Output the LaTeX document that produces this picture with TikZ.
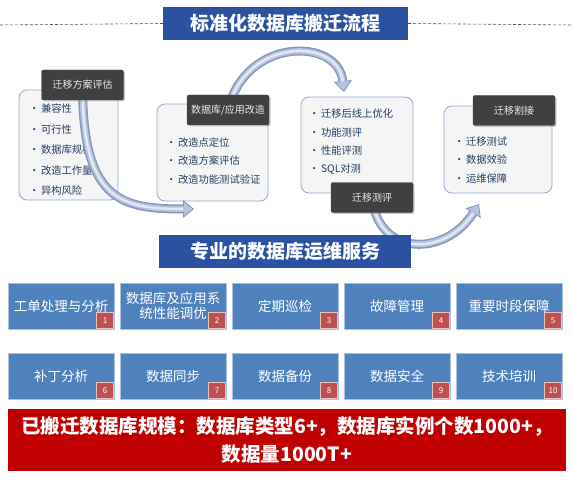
\documentclass[tikz,border=0pt]{standalone}
\usepackage{fontspec}
\setmainfont{Noto Sans CJK SC}
\usepackage{tikz}
\usetikzlibrary{calc}
\usetikzlibrary{arrows.meta}
\usetikzlibrary{shadows}
\tikzset{>=stealth,inner sep=0pt, outer sep=0pt,}

\definecolor{titleblue}{HTML}{2C51A0}
\definecolor{rulegray}{HTML}{44546A}
\definecolor{boxedge}{HTML}{8FAAD2}
\definecolor{boxfill}{HTML}{F5F5F6}
\definecolor{itemblue}{HTML}{243F60}
\definecolor{labdark}{HTML}{404040}
\definecolor{tubeedge}{HTML}{8797BC}
\definecolor{tubemid}{HTML}{B5C2DB}
\definecolor{tubelight}{HTML}{E3E8F2}
\definecolor{svcblue}{HTML}{4F81BD}
\definecolor{svcedge}{HTML}{A9C0DE}
\definecolor{badgered}{HTML}{C0504D}
\definecolor{badgeedge}{HTML}{E8C0BF}
\definecolor{bannerred}{HTML}{C00000}

\tikzset{
	titlebar/.style={fill=titleblue, text=white, font=\bfseries\fontsize{19}{22}\selectfont},
	rule/.style={draw=rulegray, line width=0.6pt, dash pattern=on 3pt off 2pt},
	lightbox/.style={draw=boxedge, fill=boxfill, line width=0.8pt, rounded corners=8pt},
	darklab/.style={fill=labdark, draw=black!70, rounded corners=2pt, text=white!92!black,
		minimum width=82pt, minimum height=30pt, font=\fontsize{10}{12}\selectfont,
		drop shadow={shadow xshift=1.5pt, shadow yshift=-1.5pt, opacity=0.4}},
	item/.style={anchor=west, text=itemblue, font=\fontsize{10.3}{12}\selectfont},
	tube/.style={line width=9pt, draw=tubeedge,
		-{Triangle[width=18pt,length=11pt,line width=0.8pt,fill=tubemid]},
		postaction={draw=tubemid, line width=6pt, shorten >=10pt, -},
		postaction={draw=tubelight, line width=2.5pt, shorten >=11pt, -}},
	svc/.style={fill=svcblue, draw=svcedge, line width=0.6pt, text=white, align=center,
		minimum width=106pt, minimum height=46pt, font=\fontsize{13.5}{15.5}\selectfont},
	badge/.style={fill=badgered, draw=badgeedge, line width=0.6pt, text=white,
		minimum width=17pt, minimum height=16pt, inner sep=1.5pt, font=\fontsize{8}{9}\selectfont},
}
\pgfdeclarelayer{front}
\pgfsetlayers{main,front}

\begin{document}
\begin{tikzpicture}[x=1pt,y=-1pt]
				\useasboundingbox (0,0) rectangle (572,481);
				\coordinate (L) at (0,25);
				\coordinate (R) at (572,25);
				\coordinate (T1) at (194,209);
				\coordinate (T2) at (344,92);
				\coordinate (T3) at (479,204);
				
				\node[titlebar, minimum width=245pt, minimum height=33pt] (head1) at (285.5,23.5) {标准化数据库搬迁流程};
				\draw[rule] (L)--(head1.west);
				\draw[rule] (head1.east)--(R);
				
				\node[lightbox, minimum width=99pt, minimum height=110pt] (box1) at (68.5,145) {};
				\node[lightbox, minimum width=111pt, minimum height=97pt] (box2) at (212.5,152.5) {};
				\node[lightbox, minimum width=112pt, minimum height=96pt] (box3) at (357,145) {};
				\node[lightbox, minimum width=108pt, minimum height=87pt] (box4) at (498,149.5) {};
				
				\foreach \t [count=\k] in {兼容性,可行性,数据库规模,改造工作量,异构风险}
					\node[item] (ia\k) at (29,88.5+20.5*\k) {\textbullet\,\t};
				\foreach \t [count=\k] in {改造点定位,改造方案评估,改造功能测试验证}
					\node[item] (ib\k) at (166,124+18.5*\k) {\textbullet\,\t};
				\foreach \t [count=\k] in {迁移后线上优化,功能测评,性能评测,SQL对测}
					\node[item] (ic\k) at (309,95.5+18.4*\k) {\textbullet\,\t};
				\foreach \t [count=\k] in {迁移测试,数据效验,运维保障}
					\node[item] (id\k) at (454,123+18.5*\k) {\textbullet\,\t};
				
				\begin{pgfonlayer}{front}
					\node[darklab] (lab1) at (82.5,85) {迁移方案评估};
					\node[darklab] (lab2) at (228,110) {数据库/应用改造};
					\node[darklab] (lab3) at (372,197.5) {迁移测评};
					\node[darklab] (lab4) at (514,110.5) {迁移割接};
				\end{pgfonlayer}
				
				\draw[tube] (lab1.center) .. controls +(0,115) and +(-74,0) .. (T1);
				\draw[tube] (lab2.center) .. controls (245,37) and (338,37) .. (T2);
				\draw[tube] (lab3.center) .. controls (378,257) and (445,257) .. (T3);
				
				\node[titlebar, minimum width=252pt, minimum height=33pt] (head2) at (285,251.5) {专业的数据库运维服务};
				
				\foreach \n/\txt [count=\i from 0] in {1/工单处理与分析, 2/{数据库及应用系\\统性能调优}, 3/定期巡检, 4/故障管理, 5/重要时段保障,
					6/补丁分析, 7/数据同步, 8/数据备份, 9/数据安全, 10/技术培训}
				{
					\pgfmathsetmacro\cx{61+mod(\i,5)*112}
					\pgfmathsetmacro\cy{306+int(\i/5)*70}
					\node[svc] (svc\n) at (\cx,\cy) {\txt};
					\node[badge, anchor=south east] (num\n) at ($(svc\n.south east)+(-0.5,-0.5)$) {\n};
				}
				
				\node[fill=bannerred, text=white, align=center, minimum width=558pt, minimum height=62pt,
					font=\bfseries\fontsize{19.5}{28}\selectfont] (banner) at (287,440)
					{已搬迁数据库规模：数据库类型6+，数据库实例个数1000+，\\数据量1000T+};
			\end{tikzpicture}
\end{document}
